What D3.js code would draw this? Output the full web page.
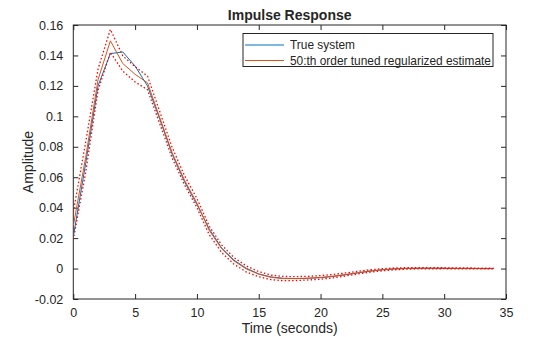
<!DOCTYPE html>
<html>
<head>
<meta charset="utf-8">
<script src="https://cdn.jsdelivr.net/npm/d3@7"></script>
<style>
  html, body { margin: 0; padding: 0; background: #fff; }
  svg { display: block; }
  text { font-family: "Liberation Sans", Arial, Helvetica, sans-serif; fill: #262626; }
</style>
</head>
<body>
<svg id="chart" width="560" height="337"></svg>
<script>
// Sample times (seconds)
const time = [0, 1, 2, 3, 4, 5, 6, 7, 8, 9, 10, 11, 12, 13, 14, 15, 16, 17,
              18, 19, 20, 21, 22, 23, 24, 25, 26, 27, 28, 29, 30, 31, 32, 33, 34];

// Impulse response of the true system
const trueSystem = [0.021, 0.069, 0.120, 0.1412, 0.1423, 0.133, 0.120, 0.098, 0.075,
  0.057, 0.042, 0.026, 0.0135, 0.0055, 0.0002, -0.0035, -0.0055, -0.0064, -0.0066,
  -0.0064, -0.006, -0.0052, -0.0041, -0.0029, -0.0017, -0.0008, -0.0002, 0.0001,
  0.0002, 0.0002, 0.0002, 0.0001, 0.0001, 0.0, 0.0];

// 50:th order tuned regularized estimate
const estimate = [0.028, 0.073, 0.124, 0.1496, 0.1347, 0.1276, 0.122, 0.099, 0.076,
  0.058, 0.043, 0.025, 0.0130, 0.0050, -0.0003, -0.0037, -0.0058, -0.0066, -0.0066,
  -0.0063, -0.0058, -0.005, -0.0039, -0.0027, -0.0016, -0.0008, -0.0002, 0.0001,
  0.0002, 0.0002, 0.0002, 0.0001, 0.0001, 0.0, 0.0];

// Confidence band half-width around the estimate
const bandHalfWidth = [0.009, 0.010, 0.007, 0.0075, 0.005, 0.005, 0.0045, 0.004, 0.0035,
  0.003, 0.003, 0.0028, 0.0025, 0.0022, 0.002, 0.0017, 0.0015, 0.0014, 0.0013,
  0.0012, 0.0012, 0.0011, 0.001, 0.0009, 0.0008, 0.0007, 0.0006, 0.0005, 0.0004,
  0.0004, 0.0003, 0.0003, 0.0003, 0.0002, 0.0002];

const xTicks = [0, 5, 10, 15, 20, 25, 30, 35];
const yTicks = [-0.02, 0, 0.02, 0.04, 0.06, 0.08, 0.1, 0.12, 0.14, 0.16];

const legendLabels = ["True system", "50:th order tuned regularized estimate"];
const colors = { truth: "#0072BD", est: "#D95319", band: "#FF0000", axis: "#262626" };

const plot = { left: 73.3, right: 506, top: 25, bottom: 299 };
const svg = d3.select("#chart");

const x = d3.scaleLinear().domain([0, 35]).range([plot.left, plot.right]);
const y = d3.scaleLinear().domain([-0.02, 0.16]).range([plot.bottom, plot.top]);

const fmt = d => String(+d.toFixed(2));
const tickLen = 5;

// Axes with inward ticks on all four sides
const gx = svg.append("g").attr("transform", `translate(0,${plot.bottom})`)
  .call(d3.axisBottom(x).tickValues(xTicks).tickFormat(fmt).tickSizeInner(-tickLen).tickSizeOuter(0).tickPadding(9));
const gxTop = svg.append("g").attr("transform", `translate(0,${plot.top})`)
  .call(d3.axisTop(x).tickValues(xTicks).tickFormat("").tickSizeInner(-tickLen).tickSizeOuter(0));
const gy = svg.append("g").attr("transform", `translate(${plot.left},0)`)
  .call(d3.axisLeft(y).tickValues(yTicks).tickFormat(fmt).tickSizeInner(-tickLen).tickSizeOuter(0).tickPadding(10));
const gyRight = svg.append("g").attr("transform", `translate(${plot.right},0)`)
  .call(d3.axisRight(y).tickValues(yTicks).tickFormat("").tickSizeInner(-tickLen).tickSizeOuter(0));

[gx, gxTop, gy, gyRight].forEach(g => {
  g.select(".domain").remove();
  g.selectAll(".tick line").attr("stroke", colors.axis).attr("stroke-width", 1);
  g.selectAll(".tick text").attr("font-size", 12.5).attr("fill", colors.axis)
    .attr("font-family", "'Liberation Sans', Arial, sans-serif");
});

// Box around the axes
svg.append("rect")
  .attr("x", plot.left).attr("y", plot.top)
  .attr("width", plot.right - plot.left).attr("height", plot.bottom - plot.top)
  .attr("fill", "none").attr("stroke", colors.axis).attr("stroke-width", 1);

svg.append("clipPath").attr("id", "plotclip").append("rect")
  .attr("x", plot.left).attr("y", plot.top)
  .attr("width", plot.right - plot.left).attr("height", plot.bottom - plot.top);

const line = d3.line().x(d => x(d[0])).y(d => y(d[1]));
const layer = svg.append("g").attr("clip-path", "url(#plotclip)");

const series = (vals) => time.map((t, i) => [t, vals[i]]);
const upper = estimate.map((v, i) => v + bandHalfWidth[i]);
const lower = estimate.map((v, i) => v - bandHalfWidth[i]);

layer.append("path").datum(series(trueSystem)).attr("d", line)
  .attr("fill", "none").attr("stroke", colors.truth).attr("stroke-width", 1);
layer.append("path").datum(series(estimate)).attr("d", line)
  .attr("fill", "none").attr("stroke", colors.est).attr("stroke-width", 1);
[upper, lower].forEach(b => {
  layer.append("path").datum(series(b)).attr("d", line)
    .attr("fill", "none").attr("stroke", colors.band).attr("stroke-width", 1.3)
    .attr("stroke-dasharray", "1.5,2.2");
});

// Title and axis labels
svg.append("text").attr("x", (plot.left + plot.right) / 2).attr("y", 19.5)
  .attr("text-anchor", "middle").attr("font-size", 14).attr("font-weight", "bold")
  .attr("fill", "#000").text("Impulse Response");
svg.append("text").attr("x", (plot.left + plot.right) / 2).attr("y", 333)
  .attr("text-anchor", "middle").attr("font-size", 14).text("Time (seconds)");
svg.append("text")
  .attr("transform", `translate(33,${(plot.top + plot.bottom) / 2}) rotate(-90)`)
  .attr("text-anchor", "middle").attr("font-size", 14).text("Amplitude");

// Legend
const leg = svg.append("g");
leg.append("rect").attr("x", 243).attr("y", 33.5).attr("width", 250).attr("height", 33)
  .attr("fill", "#fff").attr("stroke", colors.axis).attr("stroke-width", 1);
[colors.truth, colors.est].forEach((c, i) => {
  const yy = 45 + i * 15.5;
  leg.append("line").attr("x1", 245).attr("x2", 284).attr("y1", yy).attr("y2", yy)
    .attr("stroke", c).attr("stroke-width", 1);
  leg.append("text").attr("x", 290).attr("y", yy + 4).attr("font-size", 11.9)
    .attr("fill", "#000").text(legendLabels[i]);
});
</script>
</body>
</html>
